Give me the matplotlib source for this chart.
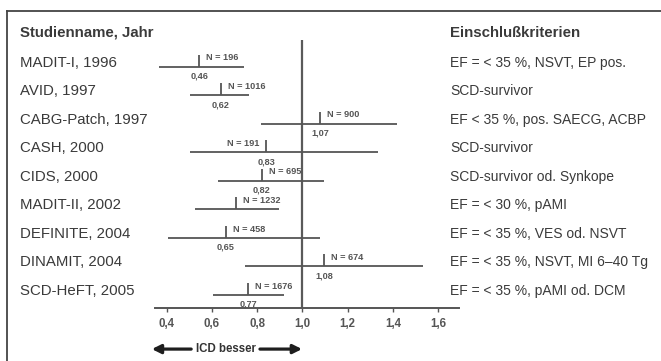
import numpy as np
import matplotlib.pyplot as plt
import matplotlib.transforms as mtransforms
from matplotlib.lines import Line2D

plt.rcParams['font.family'] = ['Liberation Sans', 'DejaVu Sans']

studies = ['MADIT-I, 1996', 'AVID, 1997', 'CABG-Patch, 1997', 'CASH, 2000',
           'CIDS, 2000', 'MADIT-II, 2002', 'DEFINITE, 2004', 'DINAMIT, 2004',
           'SCD-HeFT, 2005']
criteria = ['EF = < 35 %, NSVT, EP pos.', 'SCD-survivor',
            'EF < 35 %, pos. SAECG, ACBP', 'SCD-survivor',
            'SCD-survivor od. Synkope', 'EF = < 30 %, pAMI',
            'EF = < 35 %, VES od. NSVT', 'EF = < 35 %, NSVT, MI 6\u201340 Tg',
            'EF = < 35 %, pAMI od. DCM']
n_patients = [196, 1016, 900, 191, 695, 1232, 458, 674, 1676]
hr_labels = ['0,46', '0,62', '1,07', '0,83', '0,82', '', '0,65', '1,08', '0,77']
# point estimate as drawn in the figure
hr_drawn = [0.543, 0.640, 1.077, 0.839, 0.820, 0.705, 0.662, 1.095, 0.760]
ci_low = [0.367, 0.503, 0.817, 0.503, 0.625, 0.525, 0.404, 0.746, 0.603]
ci_high = [0.743, 0.764, 1.416, 1.332, 1.096, 0.897, 1.077, 1.534, 0.920]
n_side = ['r', 'r', 'r', 'l', 'r', 'r', 'r', 'r', 'r']
xticks = [0.4, 0.6, 0.8, 1.0, 1.2, 1.4, 1.6]
xticklabels = ['0,4', '0,6', '0,8', '1,0', '1,2', '1,4', '1,6']

line_c = '#555555'
text_c = '#3a3a3a'
W, H = 661, 361

fig = plt.figure(figsize=(W / 100, H / 100), dpi=100)
fig.patch.set_facecolor('white')

# frame (top and left only)
fig.add_artist(Line2D([7 / W, 1], [1 - 11 / H, 1 - 11 / H], transform=fig.transFigure,
                      color='#444444', lw=1.3))
fig.add_artist(Line2D([7 / W, 7 / W], [0, 1 - 11 / H], transform=fig.transFigure,
                      color='#444444', lw=1.3))

ax = fig.add_axes([155 / W, 1 - 308.3 / H, 304 / W, 268.3 / H])
ax.set_xlim(0.348, 1.692)
ax.set_ylim(8.47, -0.93)
rows = np.arange(len(studies))

ax.axvline(1.0, color='#5a5a5a', lw=1.6)
ax.hlines(rows, ci_low, ci_high, color=line_c, lw=1.3)
ax.vlines(hr_drawn, rows - 0.42, rows, color=line_c, lw=1.3)

for i in rows:
    dx = 5 if n_side[i] == 'r' else -5
    ax.annotate(f'N = {n_patients[i]}', xy=(hr_drawn[i], i), xytext=(dx, 6.3),
                textcoords='offset points', ha='left' if dx > 0 else 'right',
                va='center', fontsize=6.6, fontweight='bold', color=line_c)
    if hr_labels[i]:
        ax.annotate(hr_labels[i], xy=(hr_drawn[i], i), xytext=(0, -6.8),
                    textcoords='offset points', ha='center', va='center',
                    fontsize=6.6, fontweight='bold', color=line_c)

for s in ['top', 'left', 'right']:
    ax.spines[s].set_visible(False)
ax.spines['bottom'].set_color(line_c)
ax.spines['bottom'].set_linewidth(1.4)
ax.set_yticks([])
ax.set_xticks(xticks)
ax.set_xticklabels(xticklabels, fontweight='bold')
ax.tick_params(axis='x', length=3, width=1, color=line_c, labelcolor=line_c,
               labelsize=8.3, pad=4)

# left / right text columns
trans = mtransforms.blended_transform_factory(fig.transFigure, ax.transData)
ax.text(20 / W, -1.18, 'Studienname, Jahr', transform=trans, fontsize=10.8,
        fontweight='bold', color=text_c, va='center')
ax.text(450 / W, -1.18, 'Einschlußkriterien', transform=trans, fontsize=10.8,
        fontweight='bold', color=text_c, va='center')
for i in rows:
    ax.text(20 / W, i - 0.14, studies[i], transform=trans, fontsize=10.8,
            color=text_c, va='center')
    ax.text(450 / W, i - 0.14, criteria[i], transform=trans, fontsize=10,
            color=text_c, va='center')

# arrow annotation
tarr = mtransforms.blended_transform_factory(ax.transData, ax.transAxes)
arr = dict(arrowstyle='-|>', lw=2.3, color='#1e1e1e', mutation_scale=13,
           shrinkA=0, shrinkB=0)
ax.annotate('', xy=(0.334, -0.152), xytext=(0.508, -0.152), xycoords=tarr,
            textcoords=tarr, arrowprops=arr, annotation_clip=False)
ax.annotate('', xy=(0.998, -0.152), xytext=(0.812, -0.152), xycoords=tarr,
            textcoords=tarr, arrowprops=arr, annotation_clip=False)
ax.text(0.660, -0.152, 'ICD besser', transform=tarr, ha='center', va='center',
        fontsize=8.3, fontweight='bold', color='#333333')

fig.savefig('out.png', dpi=100)
